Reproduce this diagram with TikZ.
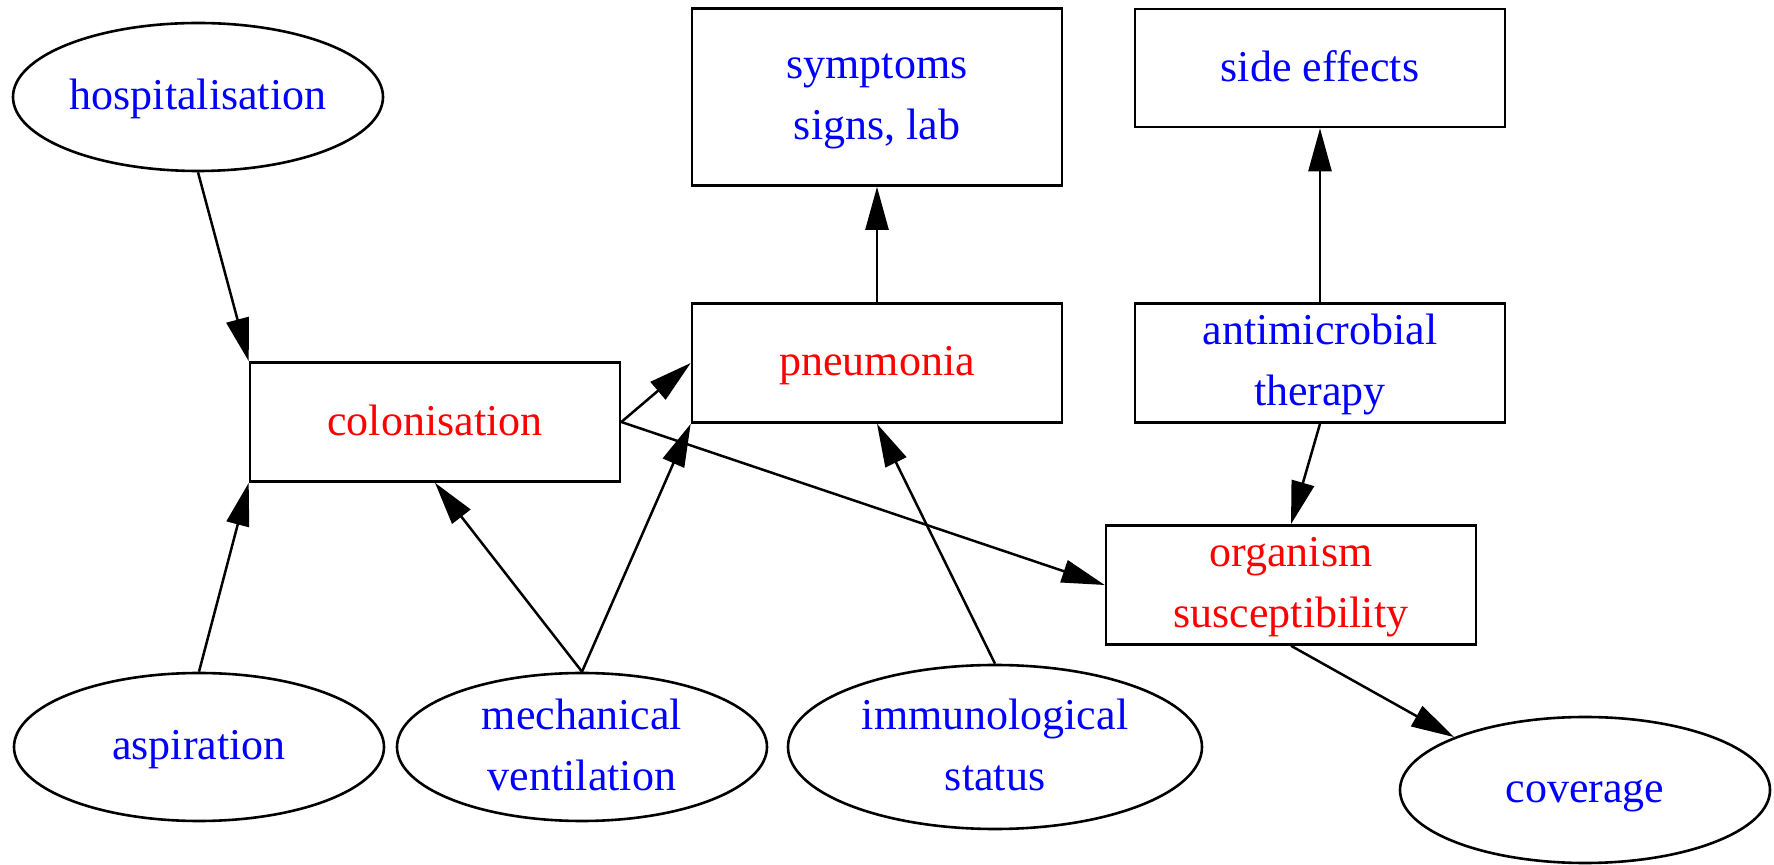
\documentclass[tikz,border=0pt]{standalone}
\usepackage{fontspec}
\setmainfont{Liberation Serif}
\usetikzlibrary{shapes.geometric,arrows.meta}
% uniform line height so every label sits the same way in its shape
\newcommand\tstrut{\rule[-3.5pt]{0pt}{20.5pt}}
\definecolor{lblblue}{RGB}{0,0,255}
\definecolor{lblred}{RGB}{255,0,0}
\tikzset{
  base/.style={draw=black, line width=1.3pt, inner sep=0pt, align=center,
    font=\fontsize{22pt}{30.5pt}\selectfont},
  boxnode/.style={base, rectangle, minimum width=185pt, minimum height=59.5pt},
  ovalnode/.style={base, ellipse, minimum width=185pt, minimum height=74pt},
  factor/.style={text=lblblue},
  state/.style={text=lblred},
  edge/.style={draw=black, line width=1.25pt,
    -{Triangle[length=21.5pt, width=11.5pt]}}
}
\begin{document}
\begin{tikzpicture}[x=0.5pt, y=-0.5pt]
\path[use as bounding box] (0,0) rectangle (1774,865);

% upper row
\node[ovalnode, factor] (hosp) at (198,97) {\tstrut hospitalisation};
\node[boxnode, factor, minimum height=88.5pt] (symp) at (877,97)
  {\tstrut symptoms\\\tstrut signs, lab};
\node[boxnode, factor, minimum height=59pt] (side) at (1320,68) {\tstrut side effects};

% middle row
\node[boxnode, state] (colon) at (435,422) {\tstrut colonisation};
\node[boxnode, state] (pneu) at (877,363) {\tstrut pneumonia};
\node[boxnode, factor] (anti) at (1320,363) {\tstrut antimicrobial\\\tstrut therapy};
\node[boxnode, state] (org) at (1291,585) {\tstrut organism\\\tstrut susceptibility};

% lower row
\node[ovalnode, factor] (asp) at (199,747) {\tstrut aspiration};
\node[ovalnode, factor] (mech) at (582,747) {\tstrut mechanical\\\tstrut ventilation};
\node[ovalnode, factor, minimum width=207pt, minimum height=82pt] (imm) at (995,747)
  {\tstrut immunological\\\tstrut status};
\node[ovalnode, factor, minimum height=73pt] (cov) at (1585,790) {\tstrut coverage};

% influences
\draw[edge] (hosp.south) -- (colon.north west);
\draw[edge] (asp.north) -- (colon.south west);
\draw[edge] (mech.north) -- (colon.south);
\draw[edge] (mech.north) -- (pneu.south west);
\draw[edge] (colon.east) -- (pneu.west);
\draw[edge] (colon.east) -- (org.west);
\draw[edge] (imm.north) -- (pneu.south);
\draw[edge] (pneu.north) -- (symp.south);
\draw[edge] (anti.south) -- (org.north);
\draw[edge] (anti.north) -- (side.south);
\draw[edge] (org.south) -- (cov.158.5);
\end{tikzpicture}
\end{document}
